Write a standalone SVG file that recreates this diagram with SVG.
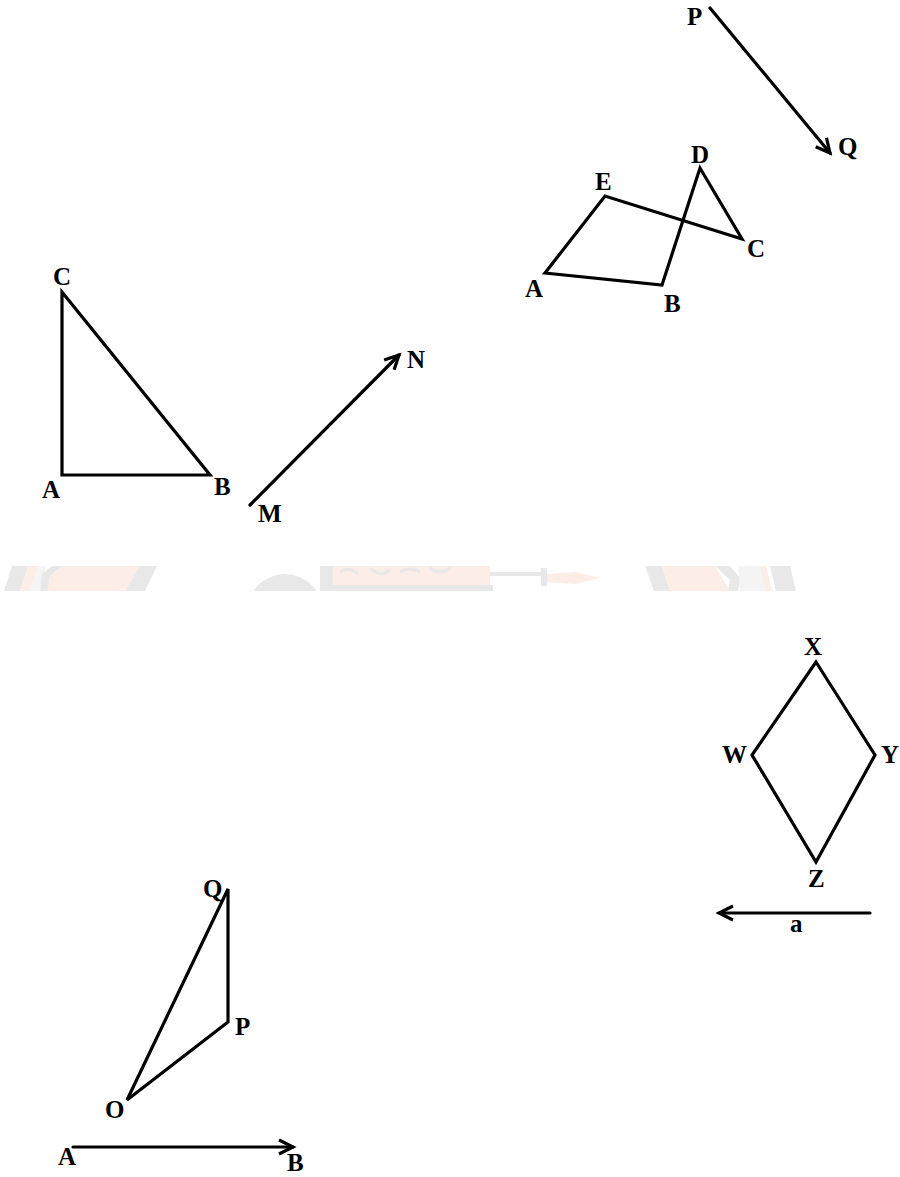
<svg xmlns="http://www.w3.org/2000/svg" width="900" height="1177" viewBox="0 0 900 1177">
<style>
.ln{fill:none;stroke:#000;stroke-width:3.2;stroke-linejoin:miter;stroke-linecap:round}
.lb{font-family:"Liberation Serif","Times New Roman",serif;font-weight:bold;font-size:25px;fill:#000}
.wg{fill:#e8e8e8}
.wl{fill:#f4f4f4}
.wp{fill:#fcede6}
</style>
<defs>
<marker id="arr" markerUnits="userSpaceOnUse" viewBox="-18 -10 22 20" refX="0" refY="0" markerWidth="22" markerHeight="20" orient="auto">
<path d="M-14,-7 L0,0 L-14,7" fill="none" stroke="#000" stroke-width="3.2" stroke-linejoin="miter"/>
</marker>
<clipPath id="band"><rect x="0" y="566" width="900" height="25"/></clipPath>
</defs>
<rect width="900" height="1177" fill="#fff"/>

<g id="watermark" clip-path="url(#band)">
<polygon class="wg" points="4,591 12,566 28,566 20,591"/>
<polygon class="wp" points="20,591 28,566 38,566 30,591"/>
<polygon class="wl" points="30,591 38,566 46,566 40,591"/>
<polygon class="wg" points="40,591 42,574 52,566 62,566 50,576 48,591"/>
<polygon class="wp" points="48,591 50,576 62,566 140,566 125,591"/>
<polygon class="wg" points="125,591 140,566 157,566 145,591"/>
<circle class="wg" cx="285" cy="612" r="38"/>
<rect class="wg" x="320" y="566" width="13" height="25"/>
<polygon class="wp" points="333,566 490,566 490,585 333,591"/>
<path d="M340,572 q10,-6 18,2 M370,568 q10,10 20,2 M400,572 q10,-6 20,0 M430,568 q10,8 20,0" fill="none" stroke="#e8e8e8" stroke-width="3"/>
<rect class="wg" x="333" y="585" width="160" height="6"/>
<polygon class="wg" points="490,572 545,572 545,576 490,576"/>
<rect class="wg" x="541" y="568" width="6" height="18"/>
<polygon class="wp" points="547,574 575,572 600,578 575,584 547,582"/>
<polygon class="wg" points="645,566 662,566 670,591 654,591"/>
<polygon class="wp" points="662,566 715,566 730,591 670,591"/>
<polygon class="wg" points="715,566 730,566 740,578 738,591 728,591 730,580"/>
<polygon class="wl" points="738,566 762,566 768,591 740,591"/>
<polygon class="wp" points="760,566 766,566 772,591 766,591"/>
<polygon class="wg" points="770,566 790,566 796,591 776,591"/>
</g>

<g id="connectors">
<line class="ln" x1="710" y1="8" x2="830" y2="153" marker-end="url(#arr)"/>
<line class="ln" x1="250" y1="505" x2="399" y2="355" marker-end="url(#arr)"/>
<line class="ln" x1="870" y1="913" x2="719" y2="913" marker-end="url(#arr)"/>
<line class="ln" x1="73" y1="1147" x2="293" y2="1147" marker-end="url(#arr)"/>
</g>

<g id="pentagon-ABCDE">
<polygon class="ln" points="545,273 605,196 742,239 700,168 662,285"/>
</g>
<g id="triangle-ABC">
<polygon class="ln" points="62,292 62,475 210,475"/>
</g>
<g id="rhombus-WXYZ">
<polygon class="ln" points="816,662 875,755 816,862 752,755"/>
</g>
<g id="triangle-OPQ">
<polygon class="ln" points="228,889 228,1022 127,1100"/>
</g>

<g id="labels">
<text class="lb" x="687" y="25">P</text>
<text class="lb" x="838" y="155">Q</text>
<text class="lb" x="595" y="190">E</text>
<text class="lb" x="691" y="163">D</text>
<text class="lb" x="747" y="257">C</text>
<text class="lb" x="525" y="297">A</text>
<text class="lb" x="664" y="312">B</text>
<text class="lb" x="53" y="285">C</text>
<text class="lb" x="42" y="498">A</text>
<text class="lb" x="214" y="495">B</text>
<text class="lb" x="258" y="522">M</text>
<text class="lb" x="407" y="368">N</text>
<text class="lb" x="804" y="655">X</text>
<text class="lb" x="722" y="763">W</text>
<text class="lb" x="881" y="763">Y</text>
<text class="lb" x="808" y="887">Z</text>
<text class="lb" x="790" y="932">a</text>
<text class="lb" x="203" y="897">Q</text>
<text class="lb" x="235" y="1035">P</text>
<text class="lb" x="105" y="1118">O</text>
<text class="lb" x="58" y="1165">A</text>
<text class="lb" x="287" y="1171">B</text>
</g>
</svg>
